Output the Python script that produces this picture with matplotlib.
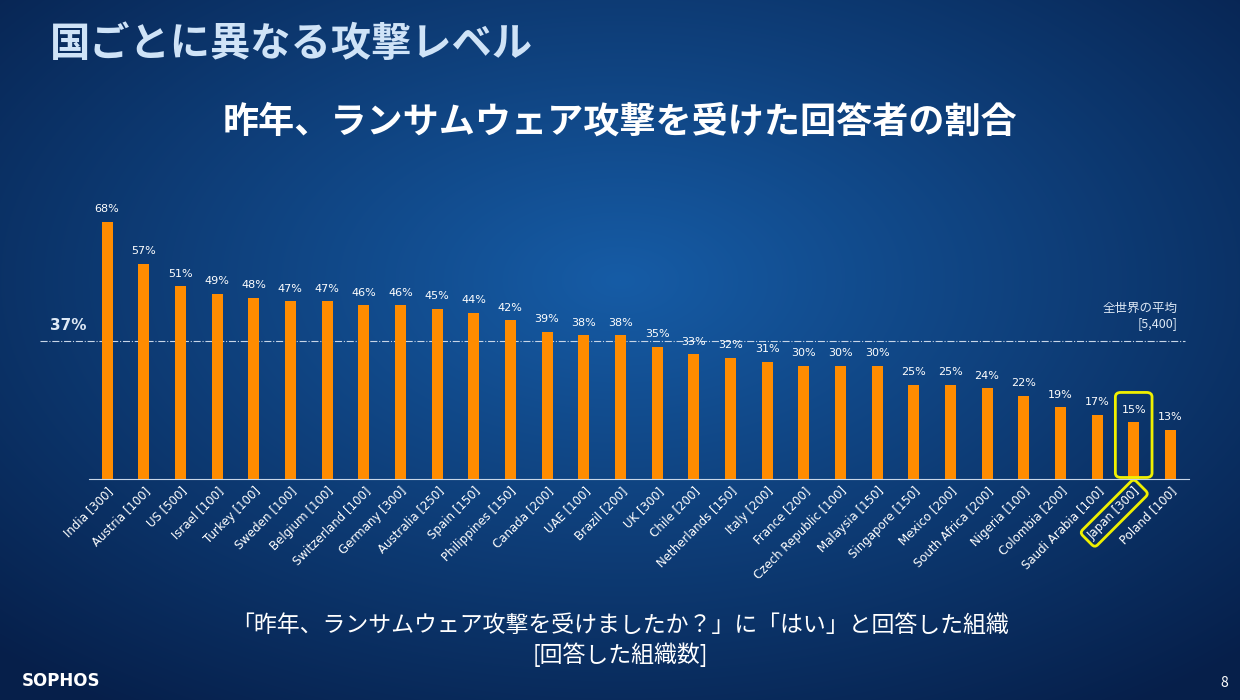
import matplotlib
matplotlib.use('Agg')
import matplotlib.pyplot as plt
import matplotlib.patches as mpatches
import numpy as np

plt.rcParams['font.family'] = ['Noto Sans CJK JP', 'DejaVu Sans']

countries = ['India', 'Austria', 'US', 'Israel', 'Turkey', 'Sweden', 'Belgium', 'Switzerland',
             'Germany', 'Australia', 'Spain', 'Philippines', 'Canada', 'UAE', 'Brazil', 'UK',
             'Chile', 'Netherlands', 'Italy', 'France', 'Czech Republic', 'Malaysia', 'Singapore',
             'Mexico', 'South Africa', 'Nigeria', 'Colombia', 'Saudi Arabia', 'Japan', 'Poland']
respondents = [300, 100, 500, 100, 100, 100, 100, 100, 300, 250, 150, 150, 200, 100, 200, 300,
               200, 150, 200, 200, 100, 150, 150, 200, 200, 100, 200, 100, 300, 100]
pct = [68, 57, 51, 49, 48, 47, 47, 46, 46, 45, 44, 42, 39, 38, 38, 35,
       33, 32, 31, 30, 30, 30, 25, 25, 24, 22, 19, 17, 15, 13]
avg = 37

fig = plt.figure(figsize=(12.4, 7), dpi=100)

# background gradient
bg = fig.add_axes([0, 0, 1, 1])
yy, xx = np.mgrid[0:700, 0:1240]
r = np.sqrt(((xx - 620) / 900.0) ** 2 + ((yy - 280) / 520.0) ** 2)
r = np.clip(r, 0, 1)
c1 = np.array([0x16, 0x5c, 0xa6]) / 255
c2 = np.array([0x06, 0x1f, 0x4a]) / 255
img = c1[None, None, :] * (1 - r[..., None]) + c2[None, None, :] * r[..., None]
bg.imshow(img, aspect='auto', extent=[0, 1240, 700, 0])
bg.set_xlim(0, 1240)
bg.set_ylim(700, 0)
bg.axis('off')

bg.text(50, 45, '国ごとに異なる攻撃レベル', color='#cfe3f7', fontsize=29, fontweight='bold', va='center')
bg.text(620, 122, '昨年、ランサムウェア攻撃を受けた回答者の割合', color='white', fontsize=26,
        fontweight='bold', ha='center', va='center')
bg.text(620, 625, '「昨年、ランサムウェア攻撃を受けましたか？」に「はい」と回答した組織',
        color='white', fontsize=16.5, ha='center', va='center')
bg.text(620, 655, '[回答した組織数]', color='white', fontsize=16.5, ha='center', va='center')
bg.text(22, 681, 'SOPHOS', color='white', fontsize=12, fontweight='bold', va='center', family='DejaVu Sans')
bg.text(1220, 683, '8', color='white', fontsize=10, va='center')
bg.plot([40, 1185], [341, 341], color='#c8d6e8', lw=0.8, ls='-.')
bg.text(50, 325, f'{avg}%', color='#dde8f5', fontsize=11, fontweight='bold', va='center', family='DejaVu Sans')
bg.text(1178, 316, '全世界の平均\n[5,400]', color='#dde8f5', fontsize=9, ha='right', va='center',
        linespacing=1.3)

ax = fig.add_axes([88.7 / 1240, (700 - 479) / 700, 1100 / 1240, 283.5 / 700])
ax.patch.set_alpha(0)
x = np.arange(len(countries))
ax.bar(x, pct, width=0.3, color='#ff8c00')
for xi, v in zip(x, pct):
    ax.text(xi, v + 2, f'{v}%', color='white', fontsize=8, ha='center', va='bottom', family='DejaVu Sans')
ax.set_xlim(-0.5, len(countries) - 0.5)
ax.set_ylim(0, 75)
ax.set_yticks([])
for s in ['top', 'right', 'left']:
    ax.spines[s].set_visible(False)
ax.spines['bottom'].set_color('#c8d6e8')
ax.set_xticks(x)
labels = [f'{c} [{n}]' for c, n in zip(countries, respondents)]
ax.set_xticklabels(labels, rotation=45, ha='right', rotation_mode='anchor', color='white', fontsize=8.5,
                   family='DejaVu Sans')
ax.tick_params(axis='x', length=0, pad=4)

ji = countries.index('Japan')
ax.add_patch(mpatches.FancyBboxPatch((ji - 0.5, 0.4), 1.0, 22.5, boxstyle='round,pad=0,rounding_size=0.15',
                                     fill=False, ec='#f0f000', lw=2, mutation_aspect=8, clip_on=False))
jl = ax.get_xticklabels()[ji]
jl.set_bbox(dict(boxstyle='round,pad=0.35', fc='none', ec='#f0f000', lw=2))

fig.savefig('out.png', dpi=100)
